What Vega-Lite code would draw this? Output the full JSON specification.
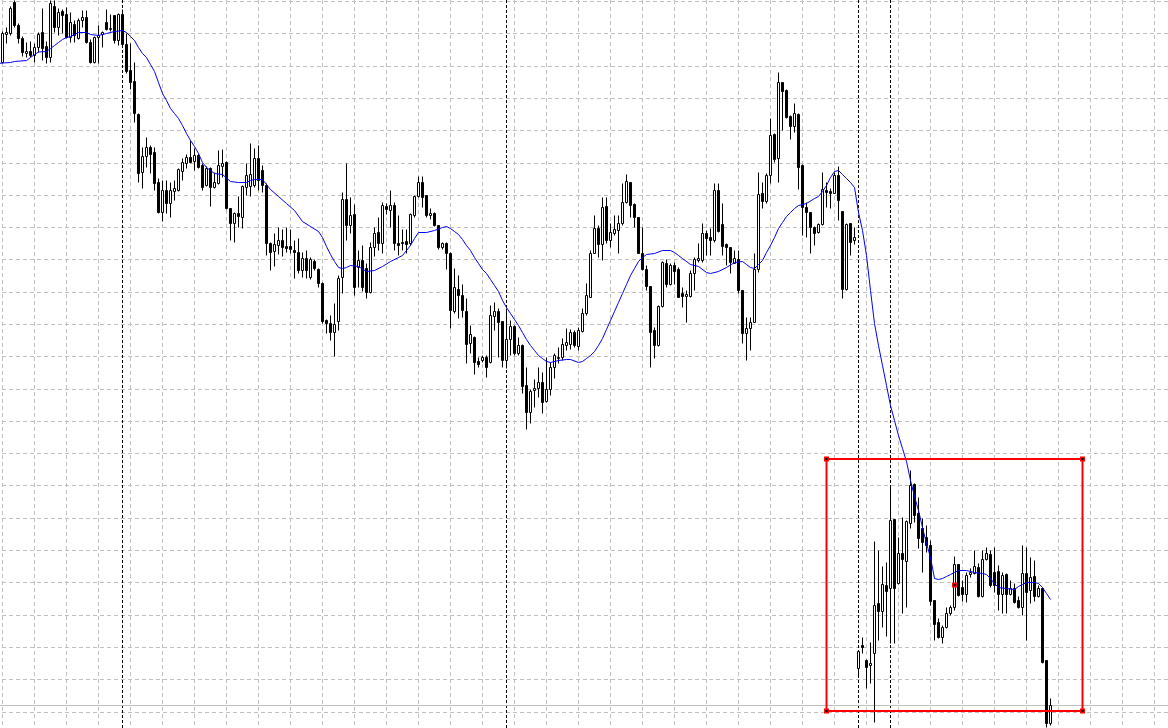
{
  "$schema": "https://vega.github.io/schema/vega-lite/v6.json",
  "width": 1168,
  "height": 728,
  "padding": 0,
  "autosize": {"type": "none"},
  "background": "#ffffff",
  "config": {
    "view": {"stroke": null}
  },
  "datasets": {
    "candles": [
      {"i":0,"o":938,"h":969,"l":937,"c":967},{"i":1,"o":966,"h":973,"l":957,"c":968},{"i":2,"o":967,"h":994,"l":965,"c":992},{"i":3,"o":998,"h":1000,"l":973,"c":975},{"i":4,"o":975,"h":977,"l":957,"c":962},
      {"i":5,"o":962,"h":964,"l":944,"c":948},{"i":6,"o":947,"h":958,"l":943,"c":949},{"i":7,"o":949,"h":959,"l":943,"c":945},{"i":8,"o":945,"h":957,"l":938,"c":953},{"i":9,"o":953,"h":968,"l":948,"c":966},
      {"i":10,"o":968,"h":992,"l":940,"c":952},{"i":11,"o":954,"h":959,"l":937,"c":943},{"i":12,"o":943,"h":1000,"l":938,"c":997},{"i":13,"o":994,"h":1000,"l":968,"c":973},{"i":14,"o":973,"h":992,"l":965,"c":988},
      {"i":15,"o":989,"h":991,"l":967,"c":985},{"i":16,"o":986,"h":993,"l":962,"c":963},{"i":17,"o":963,"h":988,"l":958,"c":978},{"i":18,"o":976,"h":980,"l":958,"c":965},{"i":19,"o":962,"h":982,"l":961,"c":980},
      {"i":20,"o":980,"h":990,"l":973,"c":983},{"i":21,"o":983,"h":990,"l":957,"c":958},{"i":22,"o":958,"h":961,"l":937,"c":938},{"i":23,"o":938,"h":964,"l":937,"c":963},{"i":24,"o":963,"h":975,"l":937,"c":965},
      {"i":25,"o":966,"h":969,"l":953,"c":968},{"i":26,"o":978,"h":991,"l":970,"c":971},{"i":27,"o":971,"h":986,"l":969,"c":972},{"i":28,"o":985,"h":985,"l":957,"c":960},{"i":29,"o":960,"h":987,"l":955,"c":986},
      {"i":30,"o":986,"h":991,"l":955,"c":956},{"i":31,"o":956,"h":967,"l":927,"c":929},{"i":32,"o":930,"h":957,"l":911,"c":918},{"i":33,"o":919,"h":938,"l":878,"c":887},{"i":34,"o":886,"h":887,"l":818,"c":827},
      {"i":35,"o":828,"h":853,"l":812,"c":844},{"i":36,"o":844,"h":863,"l":833,"c":853},{"i":37,"o":853,"h":855,"l":827,"c":846},{"i":38,"o":848,"h":853,"l":810,"c":817},{"i":39,"o":818,"h":822,"l":787,"c":788},
      {"i":40,"o":788,"h":820,"l":779,"c":810},{"i":41,"o":810,"h":820,"l":787,"c":797},{"i":42,"o":797,"h":818,"l":783,"c":810},{"i":43,"o":809,"h":820,"l":800,"c":812},{"i":44,"o":810,"h":832,"l":809,"c":831},
      {"i":45,"o":829,"h":842,"l":820,"c":838},{"i":46,"o":837,"h":846,"l":832,"c":843},{"i":47,"o":843,"h":860,"l":837,"c":838},{"i":48,"o":839,"h":852,"l":830,"c":845},{"i":49,"o":845,"h":847,"l":832,"c":833},
      {"i":50,"o":835,"h":837,"l":810,"c":813},{"i":51,"o":815,"h":834,"l":814,"c":832},{"i":52,"o":832,"h":833,"l":794,"c":813},{"i":53,"o":813,"h":828,"l":812,"c":818},{"i":54,"o":817,"h":850,"l":816,"c":835},
      {"i":55,"o":834,"h":851,"l":823,"c":837},{"i":56,"o":838,"h":839,"l":791,"c":792},{"i":57,"o":792,"h":792,"l":760,"c":777},{"i":58,"o":777,"h":788,"l":758,"c":787},{"i":59,"o":787,"h":804,"l":773,"c":784},
      {"i":60,"o":783,"h":815,"l":772,"c":814},{"i":61,"o":813,"h":837,"l":805,"c":825},{"i":62,"o":814,"h":857,"l":804,"c":826},{"i":63,"o":815,"h":852,"l":813,"c":842},{"i":64,"o":842,"h":855,"l":810,"c":820},
      {"i":65,"o":830,"h":835,"l":808,"c":815},{"i":66,"o":815,"h":817,"l":745,"c":757},{"i":67,"o":757,"h":758,"l":730,"c":748},{"i":68,"o":749,"h":767,"l":734,"c":756},{"i":69,"o":755,"h":773,"l":746,"c":760},
      {"i":70,"o":760,"h":771,"l":744,"c":753},{"i":71,"o":754,"h":773,"l":748,"c":752},{"i":72,"o":754,"h":771,"l":747,"c":751},{"i":73,"o":750,"h":760,"l":722,"c":748},{"i":74,"o":748,"h":762,"l":727,"c":730},
      {"i":75,"o":730,"h":748,"l":723,"c":742},{"i":76,"o":742,"h":750,"l":722,"c":730},{"i":77,"o":723,"h":743,"l":721,"c":741},{"i":78,"o":739,"h":741,"l":730,"c":732},{"i":79,"o":731,"h":732,"l":713,"c":717},
      {"i":80,"o":717,"h":718,"l":677,"c":679},{"i":81,"o":680,"h":681,"l":667,"c":677},{"i":82,"o":677,"h":685,"l":660,"c":668},{"i":83,"o":668,"h":697,"l":644,"c":676},{"i":84,"o":679,"h":725,"l":670,"c":722},
      {"i":85,"o":723,"h":808,"l":707,"c":801},{"i":86,"o":801,"h":837,"l":760,"c":775},{"i":87,"o":775,"h":803,"l":767,"c":785},{"i":88,"o":786,"h":796,"l":705,"c":713},{"i":89,"o":733,"h":750,"l":713,"c":740},
      {"i":90,"o":740,"h":755,"l":709,"c":713},{"i":91,"o":732,"h":737,"l":702,"c":708},{"i":92,"o":708,"h":758,"l":707,"c":753},{"i":93,"o":753,"h":773,"l":744,"c":767},{"i":94,"o":768,"h":783,"l":750,"c":757},
      {"i":95,"o":757,"h":798,"l":747,"c":795},{"i":96,"o":794,"h":797,"l":786,"c":791},{"i":97,"o":790,"h":810,"l":773,"c":795},{"i":98,"o":795,"h":798,"l":750,"c":757},{"i":99,"o":757,"h":785,"l":745,"c":755},
      {"i":100,"o":758,"h":771,"l":750,"c":757},{"i":101,"o":759,"h":771,"l":747,"c":756},{"i":102,"o":757,"h":787,"l":755,"c":786},{"i":103,"o":785,"h":805,"l":783,"c":804},{"i":104,"o":804,"h":824,"l":803,"c":818},
      {"i":105,"o":818,"h":824,"l":793,"c":803},{"i":106,"o":805,"h":805,"l":783,"c":785},{"i":107,"o":785,"h":792,"l":781,"c":787},{"i":108,"o":787,"h":788,"l":774,"c":775},{"i":109,"o":775,"h":775,"l":751,"c":753},
      {"i":110,"o":753,"h":758,"l":751,"c":757},{"i":111,"o":757,"h":758,"l":731,"c":747},{"i":112,"o":747,"h":748,"l":672,"c":690},{"i":113,"o":689,"h":732,"l":687,"c":713},{"i":114,"o":711,"h":725,"l":682,"c":705},
      {"i":115,"o":705,"h":716,"l":683,"c":690},{"i":116,"o":689,"h":702,"l":637,"c":656},{"i":117,"o":657,"h":675,"l":647,"c":666},{"i":118,"o":663,"h":664,"l":626,"c":638},{"i":119,"o":639,"h":643,"l":633,"c":636},
      {"i":120,"o":640,"h":645,"l":638,"c":643},{"i":121,"o":643,"h":645,"l":623,"c":633},{"i":122,"o":638,"h":695,"l":637,"c":685},{"i":123,"o":684,"h":698,"l":670,"c":689},{"i":124,"o":689,"h":692,"l":643,"c":678},
      {"i":125,"o":679,"h":679,"l":633,"c":640},{"i":126,"o":640,"h":692,"l":632,"c":661},{"i":127,"o":661,"h":680,"l":645,"c":674},{"i":128,"o":674,"h":675,"l":645,"c":647},{"i":129,"o":647,"h":663,"l":645,"c":655},
      {"i":130,"o":655,"h":656,"l":607,"c":614},{"i":131,"o":615,"h":633,"l":571,"c":588},{"i":132,"o":588,"h":611,"l":577,"c":609},{"i":133,"o":610,"h":621,"l":593,"c":612},{"i":134,"o":612,"h":633,"l":603,"c":618},
      {"i":135,"o":618,"h":628,"l":587,"c":598},{"i":136,"o":599,"h":643,"l":598,"c":611},{"i":137,"o":611,"h":638,"l":605,"c":633},{"i":138,"o":633,"h":647,"l":622,"c":645},{"i":139,"o":642,"h":653,"l":637,"c":643},
      {"i":140,"o":643,"h":662,"l":640,"c":656},{"i":141,"o":655,"h":672,"l":650,"c":658},{"i":142,"o":656,"h":671,"l":651,"c":668},{"i":143,"o":668,"h":670,"l":653,"c":655},{"i":144,"o":654,"h":673,"l":650,"c":670},
      {"i":145,"o":669,"h":692,"l":668,"c":687},{"i":146,"o":687,"h":717,"l":685,"c":705},{"i":147,"o":703,"h":750,"l":703,"c":747},{"i":148,"o":747,"h":785,"l":747,"c":772},{"i":149,"o":772,"h":775,"l":743,"c":756},
      {"i":150,"o":756,"h":803,"l":740,"c":793},{"i":151,"o":794,"h":803,"l":757,"c":760},{"i":152,"o":760,"h":777,"l":753,"c":768},{"i":153,"o":767,"h":785,"l":765,"c":771},{"i":154,"o":770,"h":785,"l":747,"c":777},
      {"i":155,"o":777,"h":817,"l":775,"c":798},{"i":156,"o":798,"h":826,"l":797,"c":819},{"i":157,"o":818,"h":818,"l":783,"c":795},{"i":158,"o":796,"h":797,"l":773,"c":783},{"i":159,"o":783,"h":783,"l":747,"c":747},
      {"i":160,"o":747,"h":773,"l":730,"c":731},{"i":161,"o":731,"h":735,"l":710,"c":714},{"i":162,"o":714,"h":714,"l":633,"c":668},{"i":163,"o":670,"h":673,"l":642,"c":655},{"i":164,"o":655,"h":695,"l":654,"c":694},
      {"i":165,"o":694,"h":739,"l":693,"c":738},{"i":166,"o":737,"h":741,"l":713,"c":716},{"i":167,"o":716,"h":737,"l":715,"c":735},{"i":168,"o":735,"h":738,"l":716,"c":729},{"i":169,"o":731,"h":733,"l":703,"c":703},
      {"i":170,"o":707,"h":713,"l":693,"c":704},{"i":171,"o":704,"h":710,"l":678,"c":706},{"i":172,"o":704,"h":730,"l":703,"c":727},{"i":173,"o":727,"h":743,"l":710,"c":741},{"i":174,"o":740,"h":757,"l":738,"c":742},
      {"i":175,"o":740,"h":777,"l":738,"c":767},{"i":176,"o":767,"h":770,"l":745,"c":762},{"i":177,"o":763,"h":772,"l":745,"c":760},{"i":178,"o":760,"h":817,"l":758,"c":810},{"i":179,"o":810,"h":817,"l":768,"c":769},
      {"i":180,"o":776,"h":797,"l":745,"c":754},{"i":181,"o":756,"h":757,"l":735,"c":753},{"i":182,"o":753,"h":753,"l":727,"c":738},{"i":183,"o":737,"h":750,"l":737,"c":742},{"i":184,"o":741,"h":750,"l":707,"c":710},
      {"i":185,"o":710,"h":710,"l":657,"c":667},{"i":186,"o":667,"h":683,"l":640,"c":672},{"i":187,"o":672,"h":683,"l":650,"c":678},{"i":188,"o":678,"h":747,"l":678,"c":731},{"i":189,"o":731,"h":828,"l":728,"c":806},
      {"i":190,"o":807,"h":818,"l":792,"c":799},{"i":191,"o":799,"h":827,"l":797,"c":825},{"i":192,"o":825,"h":882,"l":817,"c":865},{"i":193,"o":866,"h":867,"l":838,"c":841},{"i":194,"o":842,"h":928,"l":818,"c":918},
      {"i":195,"o":918,"h":918,"l":870,"c":909},{"i":196,"o":910,"h":911,"l":882,"c":883},{"i":197,"o":884,"h":885,"l":861,"c":874},{"i":198,"o":874,"h":897,"l":868,"c":887},{"i":199,"o":886,"h":887,"l":811,"c":833},
      {"i":200,"o":835,"h":836,"l":765,"c":793},{"i":201,"o":793,"h":798,"l":763,"c":788},{"i":202,"o":788,"h":788,"l":747,"c":773},{"i":203,"o":773,"h":774,"l":755,"c":767},{"i":204,"o":768,"h":777,"l":767,"c":776},
      {"i":205,"o":776,"h":828,"l":775,"c":811},{"i":206,"o":810,"h":818,"l":793,"c":808},{"i":207,"o":809,"h":812,"l":792,"c":807},{"i":208,"o":807,"h":828,"l":807,"c":825},{"i":209,"o":825,"h":834,"l":780,"c":800},
      {"i":210,"o":789,"h":789,"l":702,"c":711},{"i":211,"o":711,"h":777,"l":710,"c":776},{"i":212,"o":777,"h":777,"l":745,"c":758},{"i":213,"o":760,"h":773,"l":756,"c":763},
      {"i":214,"o":332,"h":350,"l":323,"c":349},{"i":215,"o":355,"h":363,"l":347,"c":353},{"i":216,"o":340,"h":341,"l":312,"c":333},{"i":217,"o":335,"h":358,"l":317,"c":337},{"i":218,"o":347,"h":459,"l":278,"c":395},
      {"i":219,"o":397,"h":450,"l":360,"c":389},{"i":220,"o":389,"h":434,"l":373,"c":416},{"i":221,"o":415,"h":438,"l":364,"c":409},{"i":222,"o":412,"h":515,"l":357,"c":480},{"i":223,"o":481,"h":481,"l":357,"c":412},
      {"i":224,"o":417,"h":463,"l":416,"c":447},{"i":225,"o":447,"h":483,"l":387,"c":441},{"i":226,"o":439,"h":480,"l":393,"c":479},{"i":227,"o":477,"h":530,"l":472,"c":515},{"i":228,"o":516,"h":517,"l":478,"c":485},
      {"i":229,"o":487,"h":503,"l":452,"c":462},{"i":230,"o":472,"h":482,"l":428,"c":458},{"i":231,"o":463,"h":475,"l":448,"c":455},{"i":232,"o":455,"h":460,"l":395,"c":399},{"i":233,"o":400,"h":400,"l":360,"c":376},
      {"i":234,"o":378,"h":382,"l":362,"c":363},{"i":235,"o":363,"h":375,"l":357,"c":373},{"i":236,"o":373,"h":393,"l":372,"c":387},{"i":237,"o":387,"h":395,"l":385,"c":393},{"i":238,"o":393,"h":444,"l":390,"c":436},
      {"i":239,"o":436,"h":436,"l":404,"c":405},{"i":240,"o":413,"h":420,"l":399,"c":406},{"i":241,"o":406,"h":428,"l":398,"c":425},{"i":242,"o":426,"h":432,"l":423,"c":428},{"i":243,"o":427,"h":450,"l":426,"c":434},
      {"i":244,"o":433,"h":437,"l":403,"c":404},{"i":245,"o":404,"h":450,"l":403,"c":441},{"i":246,"o":441,"h":453,"l":440,"c":447},{"i":247,"o":446,"h":450,"l":413,"c":415},{"i":248,"o":428,"h":453,"l":408,"c":415},
      {"i":249,"o":429,"h":435,"l":390,"c":406},{"i":250,"o":406,"h":428,"l":387,"c":425},{"i":251,"o":426,"h":427,"l":387,"c":406},{"i":252,"o":406,"h":420,"l":405,"c":412},{"i":253,"o":412,"h":417,"l":397,"c":398},
      {"i":254,"o":400,"h":404,"l":392,"c":393},{"i":255,"o":393,"h":455,"l":385,"c":427},{"i":256,"o":427,"h":453,"l":360,"c":408},{"i":257,"o":410,"h":443,"l":397,"c":423},{"i":258,"o":424,"h":440,"l":399,"c":404},
      {"i":259,"o":404,"h":415,"l":403,"c":412},{"i":260,"o":412,"h":413,"l":337,"c":338},{"i":261,"o":340,"h":340,"l":273,"c":277},{"i":262,"o":277,"h":302,"l":275,"c":295}
    ],
    "ma": [
      {"i":-1,"m":937},{"i":0,"m":937.5},{"i":2,"m":938},{"i":3,"m":939},{"i":6,"m":940},{"i":7,"m":943},{"i":8,"m":946},{"i":9,"m":948.5},{"i":11,"m":949},{"i":12,"m":952},
      {"i":13,"m":955},{"i":14,"m":958},{"i":15,"m":961},{"i":16,"m":963},{"i":17,"m":964},{"i":19,"m":968},{"i":21,"m":968},{"i":22,"m":966},{"i":24,"m":965},{"i":26,"m":967},
      {"i":28,"m":969},{"i":30,"m":970},{"i":31,"m":968},{"i":32,"m":964},{"i":33,"m":960},{"i":34,"m":953},{"i":35,"m":947},{"i":36,"m":943},{"i":37,"m":936},{"i":38,"m":929},
      {"i":39,"m":918},{"i":40,"m":907},{"i":41,"m":900},{"i":42,"m":892},{"i":43,"m":887},{"i":44,"m":882},{"i":45,"m":875},{"i":46,"m":867},{"i":47,"m":860},{"i":48,"m":854},
      {"i":49,"m":847},{"i":50,"m":838},{"i":51,"m":833},{"i":52,"m":830},{"i":53,"m":827},{"i":55,"m":826},{"i":57,"m":819},{"i":59,"m":818},{"i":61,"m":818},{"i":62,"m":820},
      {"i":63,"m":821},{"i":65,"m":821},{"i":66,"m":816},{"i":67,"m":811},{"i":69,"m":804},{"i":71,"m":797},{"i":73,"m":790},{"i":75,"m":779},{"i":77,"m":774},{"i":79,"m":769},
      {"i":80,"m":763},{"i":81,"m":754},{"i":82,"m":746},{"i":83,"m":739},{"i":84,"m":733},{"i":85,"m":732},{"i":86,"m":733},{"i":87,"m":735},{"i":89,"m":734},{"i":91,"m":729},
      {"i":93,"m":730},{"i":95,"m":734},{"i":97,"m":739},{"i":99,"m":743},{"i":100,"m":745},{"i":101,"m":750},{"i":102,"m":755},{"i":103,"m":762},{"i":104,"m":768},{"i":106,"m":768},
      {"i":108,"m":770},{"i":110,"m":773},{"i":111,"m":774},{"i":112,"m":772},{"i":113,"m":769},{"i":114,"m":766},{"i":115,"m":761},{"i":116,"m":755},{"i":117,"m":750},{"i":118,"m":743},
      {"i":119,"m":737},{"i":120,"m":731},{"i":121,"m":727},{"i":122,"m":721},{"i":123,"m":715},{"i":124,"m":709},{"i":125,"m":700},{"i":126,"m":693},{"i":127,"m":687},{"i":128,"m":681},
      {"i":129,"m":675},{"i":130,"m":668},{"i":131,"m":661},{"i":132,"m":655},{"i":133,"m":650},{"i":134,"m":645},{"i":135,"m":642},{"i":136,"m":639},{"i":137,"m":638},{"i":139,"m":640},
      {"i":141,"m":641},{"i":142,"m":641},{"i":144,"m":638},{"i":145,"m":639},{"i":146,"m":642},{"i":147,"m":645},{"i":148,"m":649},{"i":149,"m":655},{"i":150,"m":662},{"i":151,"m":671},
      {"i":152,"m":680},{"i":153,"m":689},{"i":154,"m":698},{"i":155,"m":707},{"i":156,"m":716},{"i":157,"m":725},{"i":158,"m":732},{"i":159,"m":739},{"i":160,"m":743},{"i":161,"m":746},
      {"i":163,"m":747},{"i":165,"m":750},{"i":167,"m":750},{"i":168,"m":748},{"i":169,"m":745},{"i":170,"m":742},{"i":172,"m":736},{"i":174,"m":734},{"i":176,"m":728},{"i":177,"m":727},
      {"i":179,"m":729},{"i":181,"m":733},{"i":183,"m":738},{"i":185,"m":739},{"i":186,"m":736},{"i":187,"m":733},{"i":188,"m":732},{"i":189,"m":736},{"i":190,"m":740},{"i":191,"m":748},
      {"i":192,"m":755},{"i":193,"m":763},{"i":194,"m":772},{"i":195,"m":778},{"i":196,"m":784},{"i":197,"m":788},{"i":198,"m":792},{"i":199,"m":795},{"i":201,"m":797},{"i":203,"m":802},
      {"i":204,"m":804},{"i":205,"m":809},{"i":206,"m":815},{"i":207,"m":823},{"i":208,"m":829},{"i":209,"m":830},{"i":210,"m":826},{"i":211,"m":822},{"i":212,"m":818},{"i":213,"m":813},
      {"i":214,"m":788},{"i":215,"m":770},{"i":216,"m":745},{"i":217,"m":710},{"i":218,"m":677},{"i":219,"m":655},{"i":220,"m":635},{"i":221,"m":615},{"i":222,"m":595},{"i":223,"m":580},
      {"i":224,"m":565},{"i":225,"m":552},{"i":226,"m":539},{"i":227,"m":520},{"i":228,"m":504},{"i":229,"m":490},{"i":230,"m":473},{"i":231,"m":457},{"i":232,"m":443},{"i":233,"m":422},
      {"i":234,"m":421},{"i":235,"m":422},{"i":236,"m":424},{"i":237,"m":426},{"i":238,"m":428},{"i":239,"m":430},{"i":241,"m":430},{"i":243,"m":428},{"i":245,"m":427},{"i":246,"m":426},
      {"i":247,"m":422},{"i":248,"m":417},{"i":249,"m":413},{"i":251,"m":412},{"i":253,"m":411},{"i":254,"m":414},{"i":255,"m":416},{"i":256,"m":418},{"i":258,"m":418},{"i":259,"m":417},
      {"i":260,"m":413},{"i":261,"m":407},{"i":262,"m":401}
    ],
    "timegrid": [{"i":0},{"i":8},{"i":16},{"i":24},{"i":32},{"i":40},{"i":48},{"i":56},{"i":64},{"i":72},{"i":80},{"i":88},{"i":96},{"i":104},{"i":112},{"i":120},{"i":128},{"i":136},{"i":144},{"i":152},{"i":160},{"i":168},{"i":176},{"i":184},{"i":192},{"i":200},{"i":208},{"i":216},{"i":224},{"i":232},{"i":240},{"i":248},{"i":256},{"i":264},{"i":272},{"i":280},{"i":288}],
    "pricegrid": [{"p":999},{"p":967},{"p":934},{"p":902},{"p":870},{"p":837},{"p":805},{"p":773},{"p":741},{"p":708},{"p":676},{"p":644},{"p":611},{"p":579},{"p":547},{"p":515},{"p":482},{"p":450},{"p":418},{"p":385},{"p":353},{"p":321},{"p":288}],
    "separators": [{"i":30},{"i":126},{"i":214},{"i":222}],
    "bid": [{"p":295}],
    "box": [{"t1":206,"t2":270,"p1":541.5,"p2":289.5}],
    "handles": [{"t":206,"p":541.5},{"t":270,"p":541.5},{"t":206,"p":289.5},{"t":270,"p":289.5},{"t":238,"p":415.5}]
  },
  "layer": [
    {
      "data": {"name": "timegrid"},
      "mark": {"type": "rule", "color": "#c0c0c0", "strokeWidth": 1, "strokeDash": [4, 3]},
      "encoding": {
        "x": {"field": "i", "type": "quantitative", "scale": {"domain": [-0.625, 291.375], "nice": false, "zero": false, "padding": 0}, "axis": null}
      }
    },
    {
      "data": {"name": "pricegrid"},
      "mark": {"type": "rule", "color": "#c0c0c0", "strokeWidth": 1, "strokeDash": [4, 3]},
      "encoding": {
        "y": {"field": "p", "type": "quantitative", "scale": {"domain": [272.5, 1000.5], "nice": false, "zero": false, "padding": 0}, "axis": null}
      }
    },
    {
      "data": {"name": "separators"},
      "mark": {"type": "rule", "color": "#000000", "strokeWidth": 1, "strokeDash": [3, 2]},
      "encoding": {
        "x": {"field": "i", "type": "quantitative", "scale": {"domain": [-0.625, 291.375], "nice": false, "zero": false, "padding": 0}, "axis": null}
      }
    },
    {
      "data": {"name": "bid"},
      "mark": {"type": "rule", "color": "#c0c0c0", "strokeWidth": 1},
      "encoding": {
        "y": {"field": "p", "type": "quantitative", "scale": {"domain": [272.5, 1000.5], "nice": false, "zero": false, "padding": 0}, "axis": null}
      }
    },
    {
      "data": {"name": "candles"},
      "mark": {"type": "rule", "color": "#000000", "strokeWidth": 1},
      "encoding": {
        "x": {"field": "i", "type": "quantitative", "scale": {"domain": [-0.625, 291.375], "nice": false, "zero": false, "padding": 0}, "axis": null},
        "y": {"field": "l", "type": "quantitative", "scale": {"domain": [272.5, 1000.5], "nice": false, "zero": false, "padding": 0}, "axis": null},
        "y2": {"field": "h"}
      }
    },
    {
      "data": {"name": "candles"},
      "mark": {"type": "bar", "width": 2, "strokeWidth": 1, "stroke": "#000000"},
      "encoding": {
        "x": {"field": "i", "type": "quantitative", "scale": {"domain": [-0.625, 291.375], "nice": false, "zero": false, "padding": 0}, "axis": null},
        "y": {"field": "o", "type": "quantitative", "scale": {"domain": [272.5, 1000.5], "nice": false, "zero": false, "padding": 0}, "axis": null},
        "y2": {"field": "c"},
        "fill": {"condition": {"test": "datum.c > datum.o", "value": "#ffffff"}, "value": "#000000"}
      }
    },
    {
      "data": {"name": "ma"},
      "mark": {"type": "line", "color": "#0000ff", "strokeWidth": 1},
      "encoding": {
        "x": {"field": "i", "type": "quantitative", "scale": {"domain": [-0.625, 291.375], "nice": false, "zero": false, "padding": 0}, "axis": null},
        "y": {"field": "m", "type": "quantitative", "scale": {"domain": [272.5, 1000.5], "nice": false, "zero": false, "padding": 0}, "axis": null}
      }
    },
    {
      "data": {"name": "box"},
      "mark": {"type": "rect", "fillOpacity": 0, "stroke": "#ff0000", "strokeWidth": 2},
      "encoding": {
        "x": {"field": "t1", "type": "quantitative", "scale": {"domain": [-0.625, 291.375], "nice": false, "zero": false, "padding": 0}, "axis": null},
        "x2": {"field": "t2"},
        "y": {"field": "p1", "type": "quantitative", "scale": {"domain": [272.5, 1000.5], "nice": false, "zero": false, "padding": 0}, "axis": null},
        "y2": {"field": "p2"}
      }
    },
    {
      "data": {"name": "handles"},
      "mark": {"type": "point", "shape": "square", "size": 12, "filled": true, "fill": "#000000", "stroke": "#ff0000", "strokeWidth": 1.5, "opacity": 1},
      "encoding": {
        "x": {"field": "t", "type": "quantitative", "scale": {"domain": [-0.625, 291.375], "nice": false, "zero": false, "padding": 0}, "axis": null},
        "y": {"field": "p", "type": "quantitative", "scale": {"domain": [272.5, 1000.5], "nice": false, "zero": false, "padding": 0}, "axis": null}
      }
    }
  ]
}
